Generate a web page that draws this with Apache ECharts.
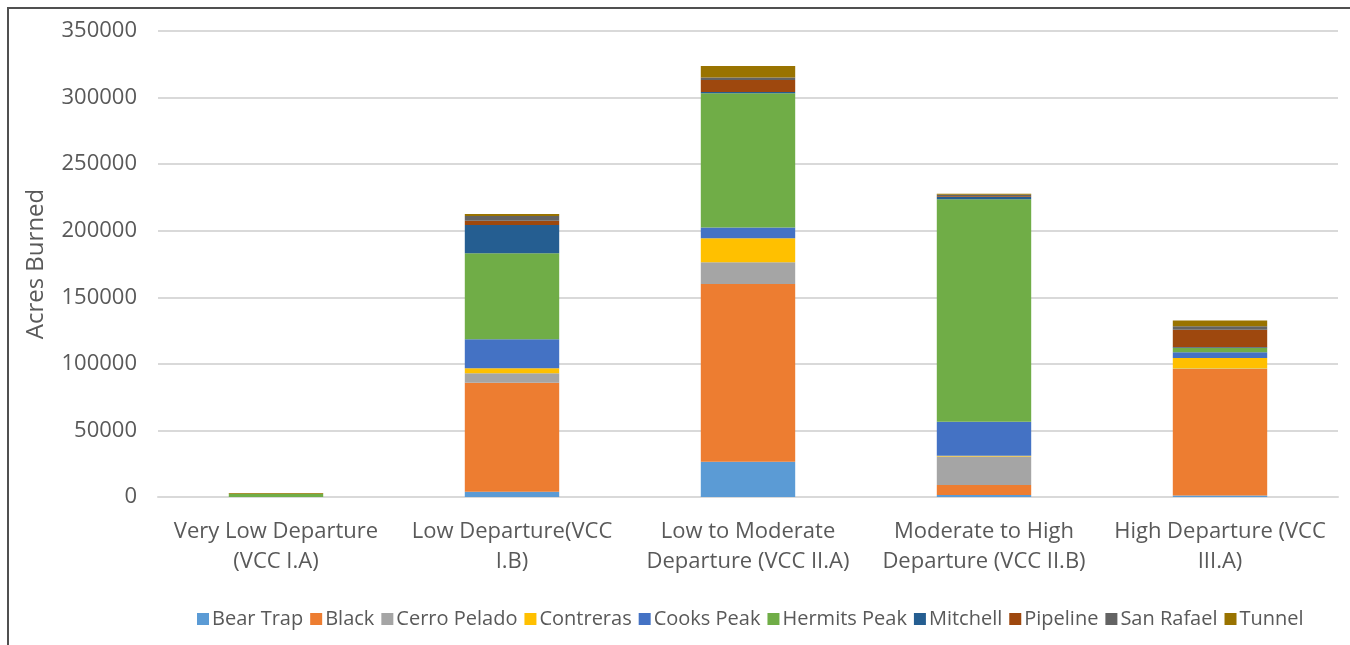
<!DOCTYPE html>
<html>
<head>
<meta charset="utf-8">
<script src="https://cdn.jsdelivr.net/npm/echarts@6/dist/echarts.min.js"></script>
<style>
html, body { margin: 0; padding: 0; background: #fff; }
#chart { width: 1350px; height: 645px; }
</style>
</head>
<body>
<div id="chart"></div>
<script>
// categories (VCC departure classes)
var categories = [
	'Very Low Departure\n(VCC I.A)',
	'Low Departure(VCC\nI.B)',
	'Low to Moderate\nDeparture (VCC II.A)',
	'Moderate to High\nDeparture (VCC II.B)',
	'High Departure (VCC\nIII.A)'
];

// acres burned per fire
var bearTrap    = [0, 4000, 26500, 1500, 1200];
var black       = [0, 81800, 133500, 7500, 95000];
var cerroPelado = [0, 7100, 16250, 21400, 300];
var contreras   = [0, 3800, 18000, 500, 7900];
var cooksPeak   = [0, 21700, 8250, 25700, 4300];
var hermitsPeak = [2500, 64600, 100750, 167000, 3300];
var mitchell    = [0, 21300, 1000, 2000, 500];
var pipeline    = [0, 3200, 9000, 500, 13200];
var sanRafael   = [0, 3500, 1750, 1000, 2500];
var tunnel      = [500, 1500, 8750, 700, 4300];

var fires = [
	['Bear Trap', bearTrap, '#5B9BD5'],
	['Black', black, '#ED7D31'],
	['Cerro Pelado', cerroPelado, '#A5A5A5'],
	['Contreras', contreras, '#FFC000'],
	['Cooks Peak', cooksPeak, '#4472C4'],
	['Hermits Peak', hermitsPeak, '#70AD47'],
	['Mitchell', mitchell, '#255E91'],
	['Pipeline', pipeline, '#9E480E'],
	['San Rafael', sanRafael, '#636363'],
	['Tunnel', tunnel, '#997300']
];

var txt = '#595959';
var font = '"Open Sans", sans-serif';

var chart = echarts.init(document.getElementById('chart'));
chart.setOption({
	animation: false,
	textStyle: { fontFamily: font },
	// border around the figure
	graphic: [{
		type: 'rect',
		shape: { x: 8, y: 8, width: 1400, height: 700 },
		style: { fill: 'none', stroke: '#505050', lineWidth: 2 }
	}],
	grid: { left: 158, right: 12, top: 31, bottom: 148 },
	legend: {
		left: 192, top: 604,
		itemWidth: 12, itemHeight: 12, itemGap: 7,
		icon: 'rect',
		textStyle: { color: txt, fontSize: 20, padding: [0, 0, 0, -2] },
		data: fires.map(function (f) { return f[0]; })
	},
	xAxis: {
		type: 'category',
		data: categories,
		axisLine: { lineStyle: { color: '#d9d9d9', width: 2 } },
		axisTick: { show: false },
		axisLabel: { color: txt, fontSize: 22, lineHeight: 30, margin: 20, interval: 0 }
	},
	yAxis: {
		type: 'value',
		min: 0, max: 350000, interval: 50000,
		name: 'Acres Burned',
		nameLocation: 'middle',
		nameGap: 110,
		nameTextStyle: { color: txt, fontSize: 24 },
		axisLine: { show: false },
		axisTick: { show: false },
		axisLabel: { color: txt, fontSize: 22, margin: 21, formatter: function (v) { return String(v); } },
		splitLine: { lineStyle: { color: '#d9d9d9', width: 2 } }
	},
	series: fires.map(function (f) {
		return {
			name: f[0],
			type: 'bar',
			stack: 'acres',
			barWidth: '40%',
			itemStyle: { color: f[2] },
			data: f[1]
		};
	})
});
</script>
</body>
</html>
